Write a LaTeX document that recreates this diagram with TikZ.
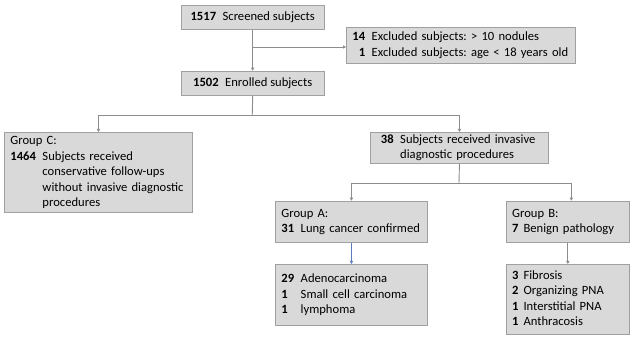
\documentclass[tikz,border=0pt]{standalone}
\usepackage{fontspec}
\setmainfont{Carlito}
\usetikzlibrary{arrows.meta}
\definecolor{boxfill}{HTML}{D9D9D9}
\definecolor{boxline}{HTML}{A0A0A0}
\definecolor{conncol}{HTML}{8C8C8C}
\definecolor{bluecol}{HTML}{5B7DC0}
\newcommand{\nsep}{\hspace{6.5pt}}
\frenchspacing
\begin{document}
\begin{tikzpicture}[x=1pt,y=-1pt,
  box/.style={draw=boxline, fill=boxfill, line width=0.9pt, inner ysep=0pt, inner xsep=6pt,
    anchor=north west, align=left, font=\fontsize{12.6}{15.5}\selectfont},
  conn/.style={draw=conncol, line width=0.9pt},
  arr/.style={conn, -{Triangle[length=3pt,width=3.2pt]}},
]
\useasboundingbox (0,0) rectangle (635,339);
% boxes
\node[box, minimum width=143.5pt, minimum height=24.5pt, align=center] (b1) at (180.5,5)
  {\textbf{1517}\nsep Screened subjects};
\node[box, text width=217pt, minimum height=36.3pt] (excl) at (346,27)
  {\begin{tabular}{@{}r@{\nsep}l@{}}\textbf{14} & Excluded subjects: > 10 nodules\\
   \textbf{1} & Excluded subjects: age < 18 years old\end{tabular}};
\node[box, minimum width=143.5pt, minimum height=24.5pt, align=center] (enr) at (180.5,70.7)
  {\textbf{1502}\nsep Enrolled subjects};
\node[box, text width=176pt, minimum height=80pt] (grpC) at (4,132)
  {\begin{tabular}{@{}l@{\nsep}l@{}}\multicolumn{2}{@{}l@{}}{Group C:}\\
   \textbf{1464} & Subjects received\\
   & conservative follow-ups\\
   & without invasive diagnostic\\
   & procedures\end{tabular}};
\node[box, inner xsep=10.5pt, text width=157pt, minimum height=30pt] (s38) at (370,132)
  {\begin{tabular}{@{}l@{\nsep}l@{}}\textbf{38} & Subjects received invasive\\
   & diagnostic procedures\end{tabular}};
\node[box, text width=140pt, minimum height=41.3pt] (grpA) at (275,200.7)
  {\begin{tabular}{@{}l@{\nsep}l@{}}\multicolumn{2}{@{}l@{}}{Group A:}\\
   \textbf{31} & Lung cancer confirmed\end{tabular}};
\node[box, text width=111.3pt, minimum height=41.3pt] (grpB) at (505.7,200.7)
  {\begin{tabular}{@{}l@{\hspace{5pt}}l@{}}\multicolumn{2}{@{}l@{}}{Group B:}\\
   \textbf{7} & Benign pathology\end{tabular}};
\node[box, text width=140pt, minimum height=61pt] (a2) at (275,264)
  {\begin{tabular}{@{}l@{\nsep}l@{}}\textbf{29} & Adenocarcinoma\\
   \textbf{1} & Small cell carcinoma\\
   \textbf{1} & lymphoma\end{tabular}};
\node[box, text width=111.3pt, minimum height=70pt] (b2) at (505.7,264)
  {\begin{tabular}{@{}l@{\hspace{5pt}}l@{}}\textbf{3} & Fibrosis\\
   \textbf{2} & Organizing PNA\\
   \textbf{1} & Interstitial PNA\\
   \textbf{1} & Anthracosis\end{tabular}};
% junction coordinates
\coordinate (br1) at (252.25,47);
\coordinate (j1) at (252.25,115);
\coordinate (j2) at (459,183);
% connectors
\draw[arr] (b1.south) -- (enr.north);
\draw[arr] (br1) -- (br1 -| excl.west);
\draw[conn] (enr.south) -- (j1);
\draw[arr] (j1) -| (grpC.north);
\draw[arr] (j1) -| (s38.north);
\draw[conn] (s38.south) -- (j2);
\draw[arr] (j2) -| (grpA.north);
\draw[arr] (j2) -| ([xshift=3.5pt]grpB.north);
\draw[arr, draw=bluecol] (grpA.south) -- (a2.north);
\draw[arr] (grpB.south) -- (b2.north);
\end{tikzpicture}
\end{document}
